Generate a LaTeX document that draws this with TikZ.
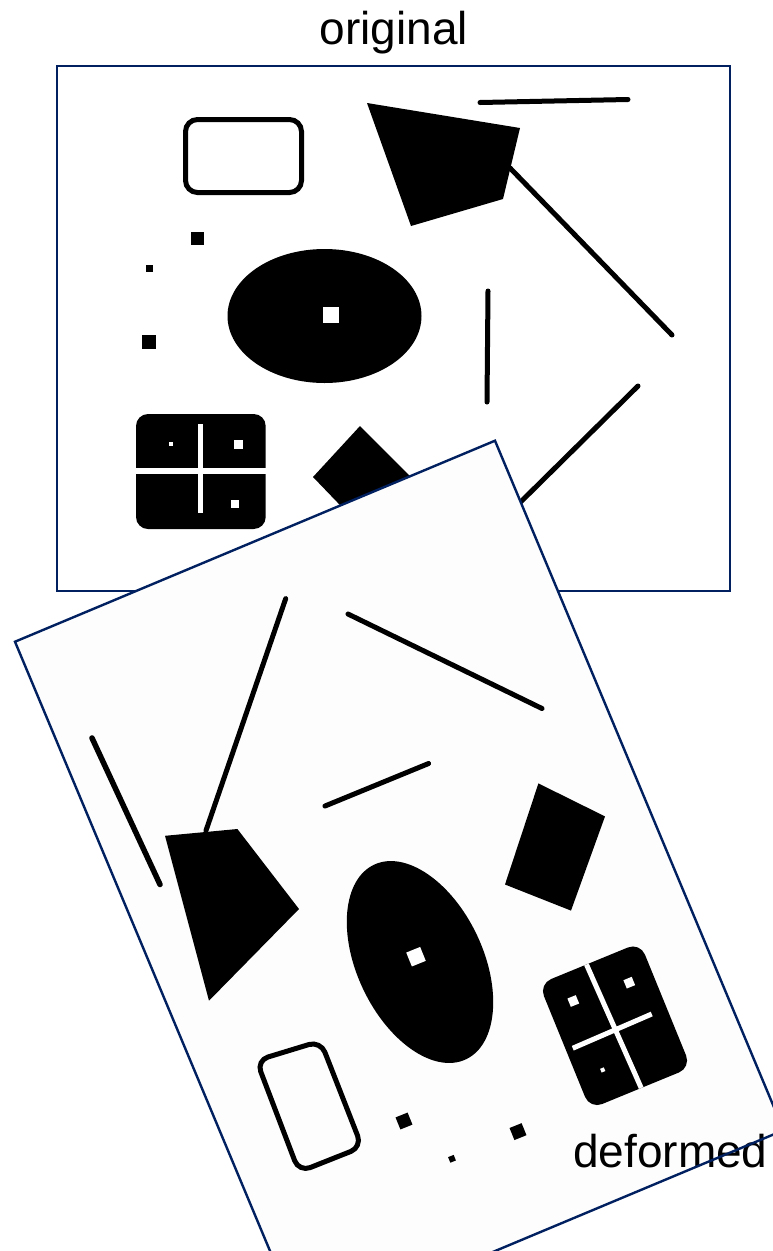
\documentclass[tikz,border=0pt]{standalone}
\usepackage{fontspec}
\setmainfont{Liberation Sans}
\usetikzlibrary{calc}
\definecolor{navy}{RGB}{0,32,96}
\definecolor{paper}{RGB}{253,253,253}
\begin{document}
\begin{tikzpicture}[x=1pt,y=-1pt,
  frame/.style={draw=navy,line width=2.4pt,line join=miter},
  stroke/.style={line width=5pt,line cap=round,draw=black},
  outline/.style={line width=5pt,draw=black},
  sq/.style={fill=black,inner sep=0pt,minimum size=#1,draw=none},
  wsq/.style={fill=white,inner sep=0pt,minimum size=#1,draw=none},
  lab/.style={font=\fontsize{46}{50}\selectfont,inner sep=0pt}]
\useasboundingbox (0,0) rectangle (772,1251);

% ---------------- original ----------------
\node[lab,anchor=base] (orig) at (394,44) {original};
\draw[frame,fill=white] (57,66) rectangle (730,591);

\draw[outline,rounded corners=12pt] (185.5,119.5) rectangle (301.5,192.5);
\node[sq=13pt] (o1) at (197.5,238) {};
\node[sq=7pt] (o2) at (149.5,268.5) {};
\node[sq=14pt] (o3) at (149,342) {};
\fill (324.5,316) ellipse [x radius=97pt, y radius=67pt];
\node[wsq=16pt] (oh) at (331,315) {};
\fill (367,103) -- (520,128) -- (503,199) -- (411,226) -- cycle;
\draw[stroke] (480,102.5) -- (628,99.5);
\draw[stroke] (510,168) -- (672,335);
\draw[stroke] (488,291) -- (487,402);
\draw[stroke] (638,386) -- (470,552);
\fill (360,426) -- (411,477) -- (362,528) -- (313,477) -- cycle;
% grid
\fill[rounded corners=12pt] (136,414) rectangle (265.7,529);
\fill[white] (197.7,424) rectangle (202.7,513);
\fill[white] (136,468) rectangle (265.7,474);
\node[wsq=4pt] (od1) at (171,443.5) {};
\node[wsq=9pt] (od2) at (238.5,444) {};
\node[wsq=8pt] (od3) at (235,503.5) {};

% ---------------- deformed ----------------
\coordinate (T) at (495,440.7);
\coordinate (R) at (783.6,1130.2);
\coordinate (B) at (303.6,1331.2);
\coordinate (L) at (15,641.7);
\fill[paper] (T) -- (R) -- (B) -- (L) -- cycle;

\draw[stroke] (206,830.5) -- (285.7,598.6);
\draw[stroke] (348,614) -- (542,708.5);
\draw[stroke,line width=5.5pt] (92,738) -- (160,884.5);
\draw[stroke] (325,806) -- (428.6,763.5);
\fill (165,835.8) -- (237.4,829) -- (299,909) -- (209,1000.7) -- cycle;
\fill (538.4,783.4) -- (605,816.4) -- (571,910.6) -- (505,884.5) -- cycle;
\fill[rotate around={115.3:(420,962)}] (420,962) ellipse [x radius=107.6pt, y radius=63pt];
\node[wsq=15pt,rotate=22] (dh) at (416,956.7) {};
\draw[outline,rounded corners=12pt] (256.5,1060.5) -- (320.5,1041) -- (362,1147) -- (299,1172) -- cycle;
\node[sq=13pt,rotate=22] (d1) at (404,1121) {};
\node[sq=13pt,rotate=22] (d2) at (518,1131.6) {};
\node[sq=6pt,rotate=22] (d3) at (452,1158.8) {};
% deformed grid
\begin{scope}[shift={(539,984)}, x={(101pt,41.5pt)}, y={(51pt,-125pt)}]
  \fill[rounded corners=13pt] (0,0) -- (1,0) -- (1,1) -- (0,1) -- cycle;
  \draw[white,line width=5pt] (0.47,0) -- (0.507,1);
  \draw[white,line width=5pt] (0.064,0.535) -- (0.852,0.523);
  \node[wsq=9pt,rotate=22] (dd1) at (0.232,0.213) {};
  \node[wsq=9pt,rotate=22] (dd2) at (0.77,0.245) {};
  \node[wsq=4pt,rotate=22] (dd3) at (0.243,0.768) {};
\end{scope}

\node[lab,anchor=base west] (def) at (573,1167) {deformed};
\draw[frame] (T) -- (R) -- (B) -- (L) -- cycle;
\end{tikzpicture}
\end{document}
